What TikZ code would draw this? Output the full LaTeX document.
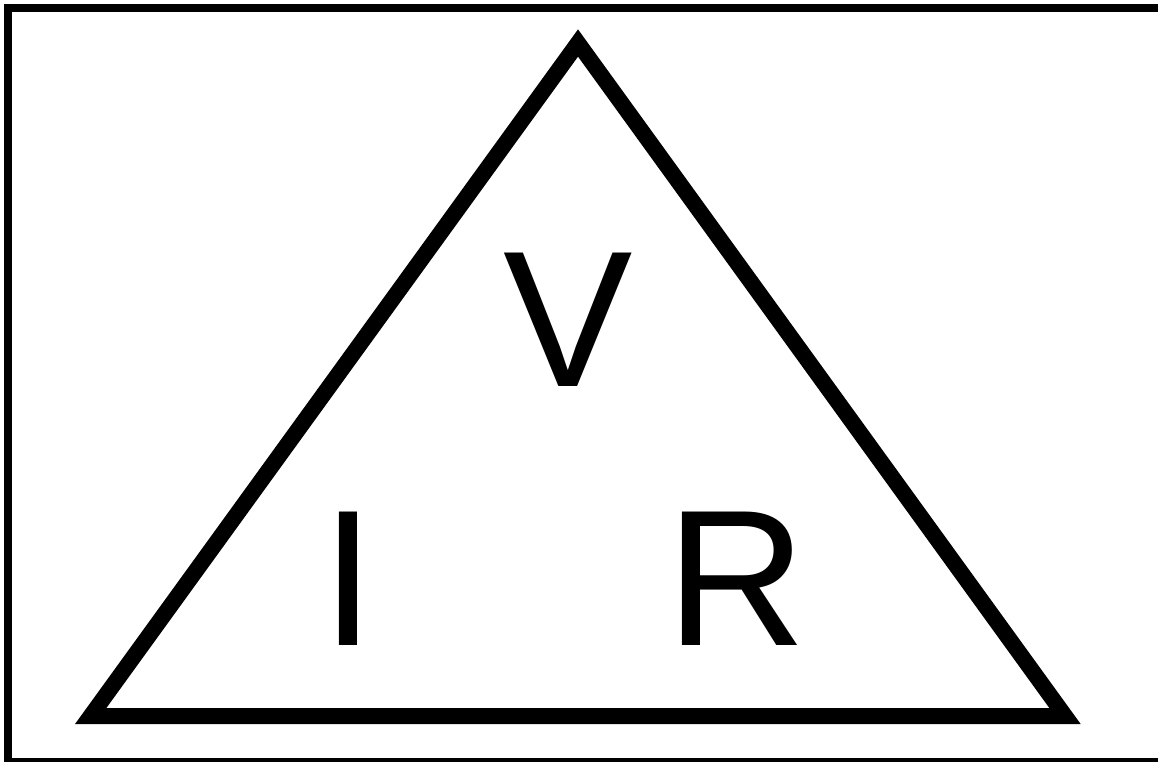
\documentclass[tikz,border=0pt]{standalone}
\usepackage{fontspec}
\setmainfont{Liberation Sans}
\usetikzlibrary{positioning,calc}
\tikzset{
    % Outer frame
    framebox/.style={
        draw=black,
        line width=8pt
    },
    % Triangle outline
    triline/.style={
        draw=black,
        line width=16pt,
        line join=miter
    },
    % Big letter
    letternode/.style={
        anchor=base,
        inner sep=0pt,
        font=\fontsize{194}{200}\selectfont
    }
}
\begin{document}
\begin{tikzpicture}[x=1pt,y=-1pt]
    \useasboundingbox (0,0) rectangle (1158,761);
    \clip (0,0) rectangle (1158,761);
    \draw[framebox] (8,8) rectangle (1172,762);

    \coordinate (top) at (578,43);
    \coordinate (left) at (90.7,716);
    \coordinate (right) at (1065,716);
    \draw[triline] (top) -- (left) -- (right) -- cycle;

    \node[letternode] (v) at (568,386) {V};
    \node[letternode] (i) at (348.7,645) {I};
    \node[letternode] (r) at (737,645) {R};
\end{tikzpicture}
\end{document}
